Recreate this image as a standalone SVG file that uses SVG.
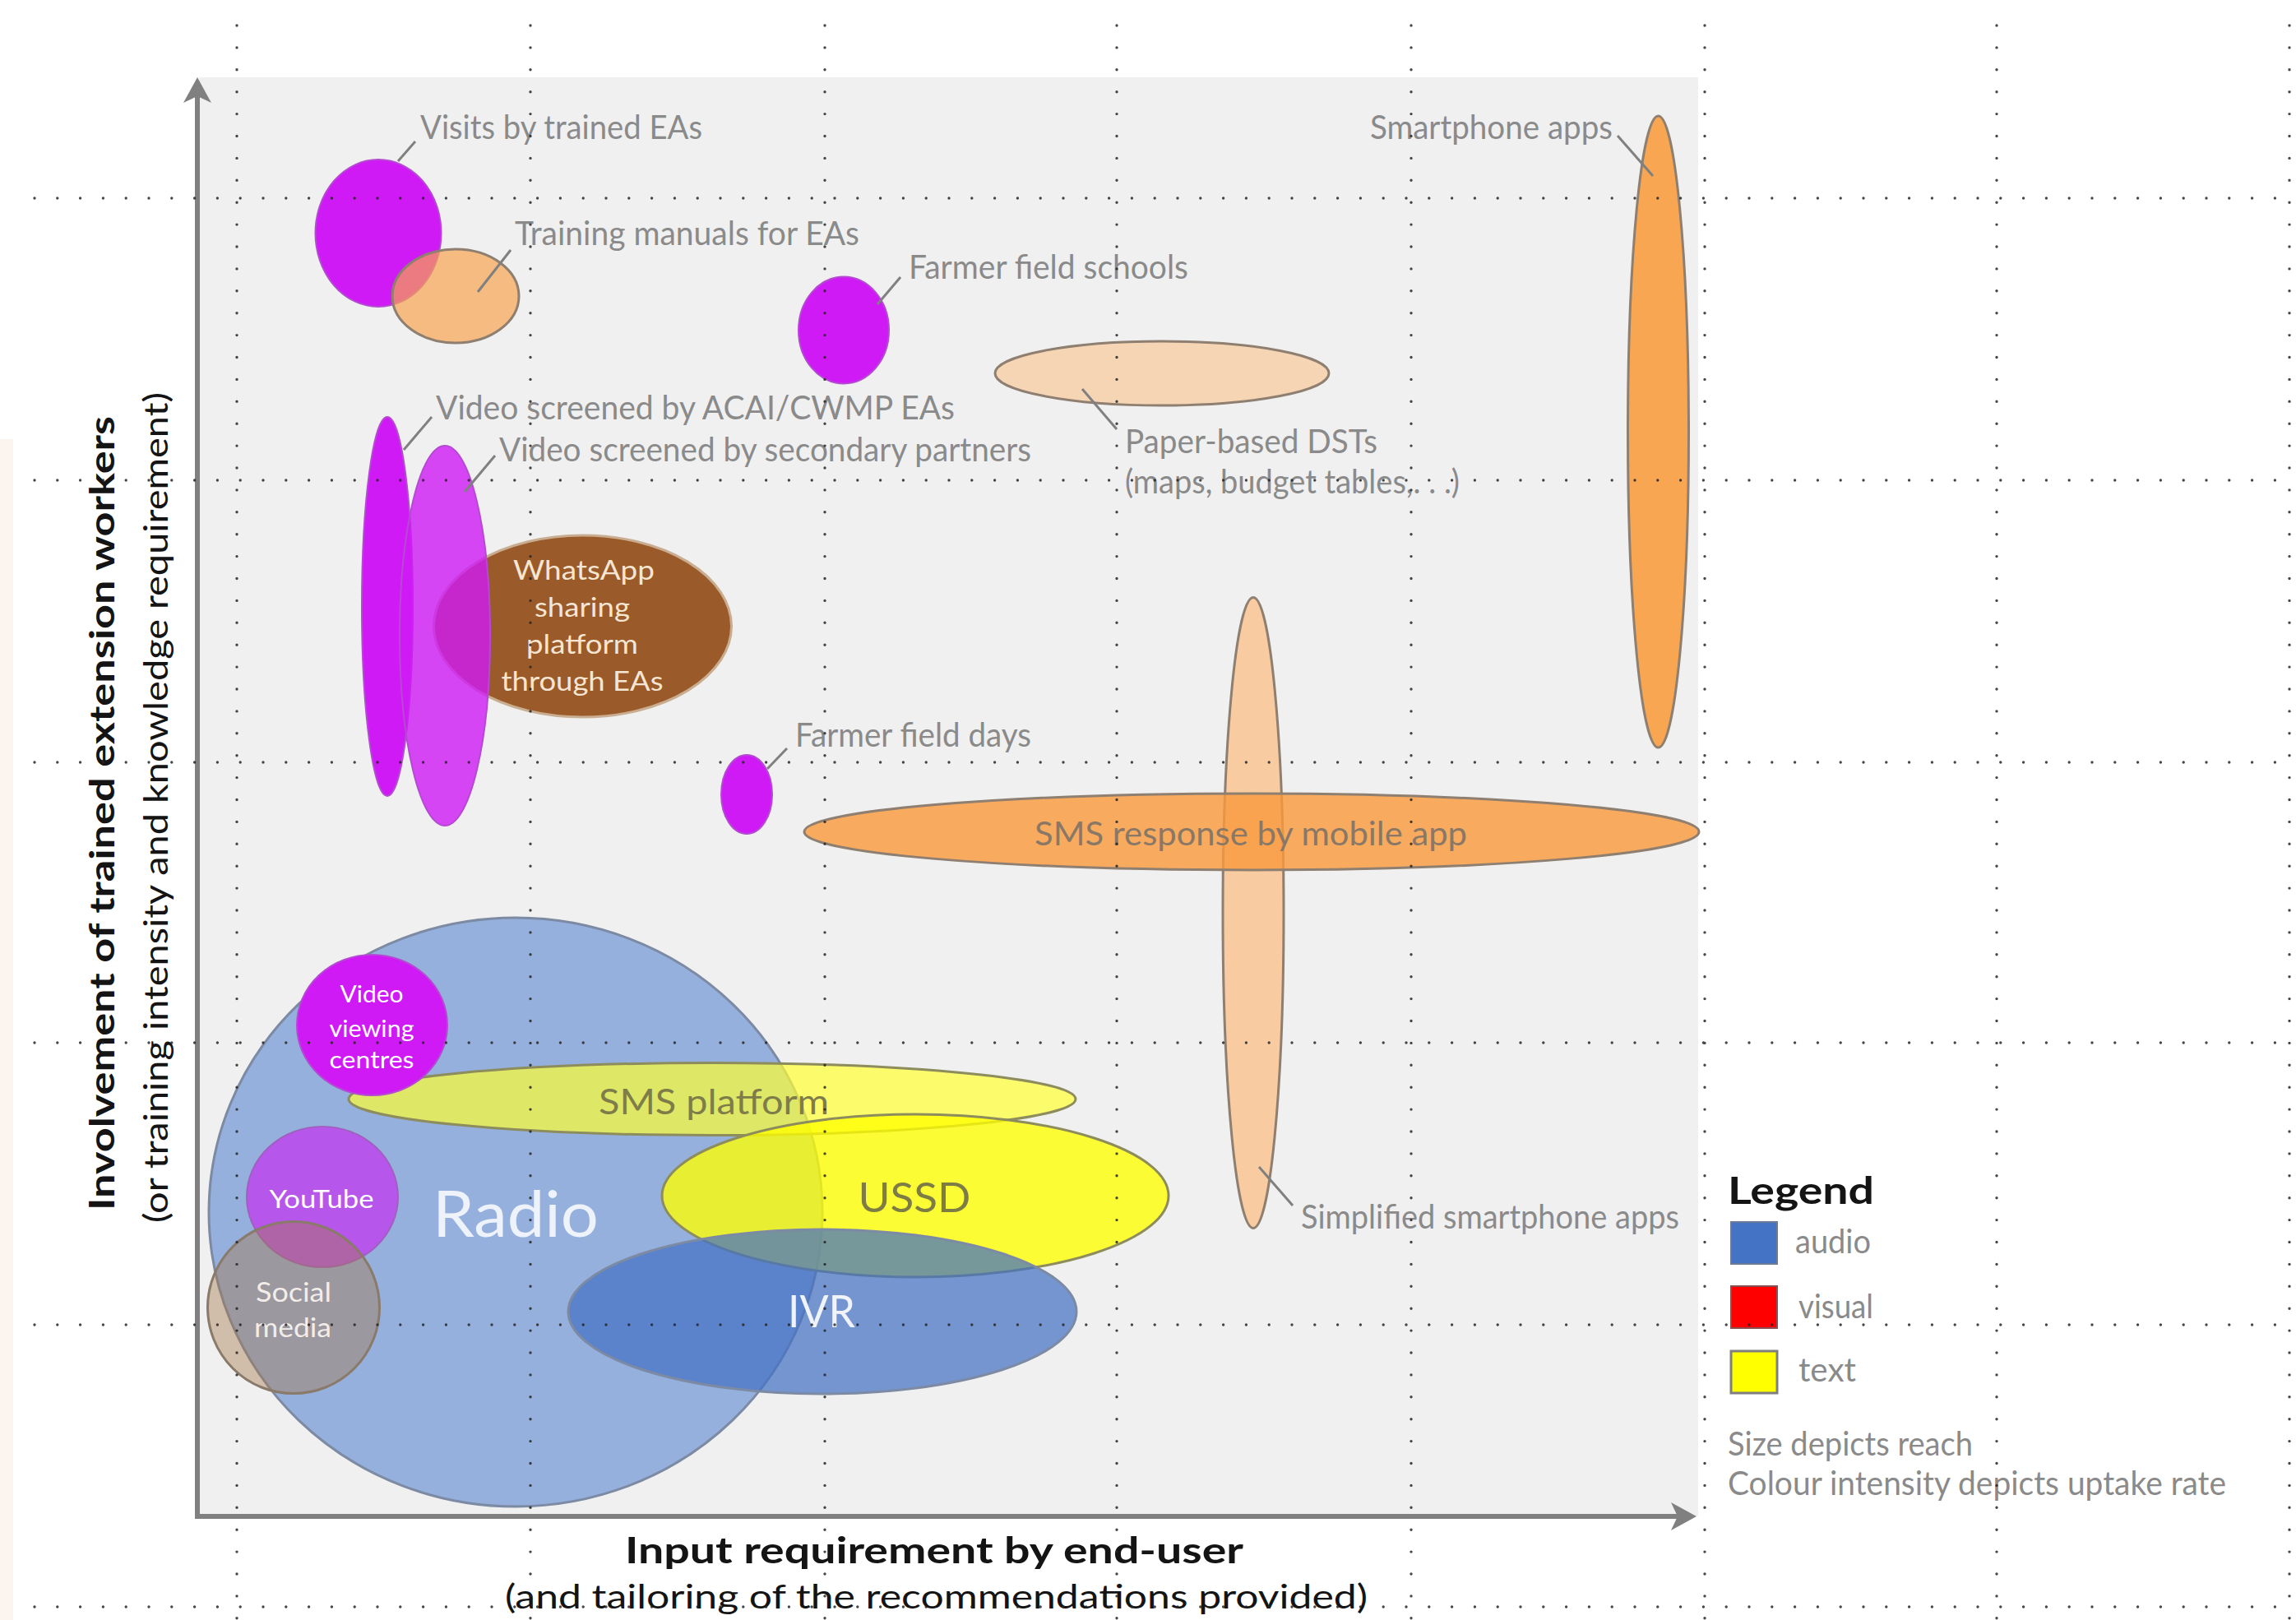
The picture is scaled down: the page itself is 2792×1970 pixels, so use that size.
<svg xmlns="http://www.w3.org/2000/svg" width="2792" height="1970" viewBox="0 0 2792 1970">
<defs>
<marker id="arr" viewBox="0 0 31 34" refX="8" refY="17" markerWidth="31" markerHeight="34" markerUnits="userSpaceOnUse" orient="auto">
<path d="M0,0 L31,17 L0,34 L8,17 z" fill="#808080"/>
</marker>
</defs>
<style>
.lbl{font-family:Lato,"Liberation Sans",sans-serif;font-size:40px;fill:#8a8a8a}
.in{font-family:Lato,"Liberation Sans",sans-serif;text-anchor:middle}
.ax{stroke:#808080;stroke-width:6;fill:none}
.lead line{stroke:#808080;stroke-width:3}
.mag{fill:#cf1af5;stroke:#b54ad2;stroke-width:2}
.ostk{stroke:#8e7f70;stroke-width:3}
.bstk{stroke:#7d8aa3;stroke-width:3}
.ystk{stroke:#8d8c5c;stroke-width:3}
.vg line{stroke:#262626;stroke-width:3.4;stroke-linecap:round;stroke-dasharray:0 26.9}
.hg line{stroke:#262626;stroke-width:3.4;stroke-linecap:round;stroke-dasharray:0 27.8}
.axt{font-family:Lato,"Liberation Sans",sans-serif;fill:#141414}
</style>
<rect x="0" y="0" width="2792" height="1970" fill="#ffffff"/>
<rect x="0" y="534" width="16" height="1436" fill="#fcf5ef"/>
<rect x="242" y="94" width="1823" height="1750" fill="#f0f0f0"/>

<!-- lower cluster -->
<g id="radio">
<ellipse cx="627" cy="1474" rx="373" ry="358" fill="#95b0dd" class="bstk"/>
<text class="in" x="627" y="1504" font-size="78" fill="#eef2fa" textLength="202" lengthAdjust="spacingAndGlyphs">Radio</text>
</g>
<g id="sms-platform">
<ellipse cx="866" cy="1336.5" rx="442" ry="44" fill="#ffff33" fill-opacity="0.7" class="ystk"/>
<text class="in" x="868" y="1355" font-size="43" fill="#7e7d4a" textLength="280" lengthAdjust="spacingAndGlyphs">SMS platform</text>
</g>
<g id="video-viewing-centres">
<ellipse cx="452.5" cy="1246.5" rx="91.5" ry="85.5" class="mag"/>
<text class="in" x="452" y="1219" font-size="29" fill="#ffffff" textLength="77" lengthAdjust="spacingAndGlyphs">Video</text>
<text class="in" x="452" y="1261" font-size="29" fill="#ffffff" textLength="103" lengthAdjust="spacingAndGlyphs">viewing</text>
<text class="in" x="452" y="1299" font-size="29" fill="#ffffff" textLength="103" lengthAdjust="spacingAndGlyphs">centres</text>
</g>
<g id="ussd">
<ellipse cx="1113" cy="1454" rx="308" ry="99" fill="#ffff00" fill-opacity="0.78" class="ystk"/>
<text class="in" x="1112" y="1474" font-size="50" fill="#7e7c45" textLength="137" lengthAdjust="spacingAndGlyphs">USSD</text>
</g>
<g id="ivr">
<ellipse cx="1000" cy="1595" rx="309" ry="100" fill="#4472c4" fill-opacity="0.72" class="bstk"/>
<text class="in" x="999" y="1614" font-size="54" fill="#f0f4fa" textLength="82" lengthAdjust="spacingAndGlyphs">IVR</text>
</g>
<g id="youtube">
<ellipse cx="392" cy="1455.5" rx="92" ry="85.5" fill="#cf1af5" fill-opacity="0.6" stroke="#a060c0" stroke-width="2"/>
<text class="in" x="391" y="1469" font-size="30" fill="#ffffff" textLength="127" lengthAdjust="spacingAndGlyphs">YouTube</text>
</g>
<g id="social-media">
<ellipse cx="357" cy="1590" rx="104.5" ry="104.6" fill="#a5764a" fill-opacity="0.42" stroke="#8a7a6a" stroke-width="3"/>
<text class="in" x="357" y="1583" font-size="32" fill="#f2ede8" textLength="92" lengthAdjust="spacingAndGlyphs">Social</text>
<text class="in" x="356" y="1626" font-size="32" fill="#f2ede8" textLength="94" lengthAdjust="spacingAndGlyphs">media</text>
</g>

<!-- upper cluster -->
<g id="visits-by-trained-eas">
<ellipse cx="460" cy="283.5" rx="76.5" ry="89.5" class="mag"/>
<text class="lbl" x="511" y="169" textLength="343" lengthAdjust="spacingAndGlyphs">Visits by trained EAs</text>
</g>
<g id="training-manuals">
<ellipse cx="554" cy="360" rx="77" ry="57" fill="#f8a450" fill-opacity="0.7" class="ostk"/>
<text class="lbl" x="626" y="298" textLength="419" lengthAdjust="spacingAndGlyphs">Training manuals for EAs</text>
</g>
<g id="farmer-field-schools">
<ellipse cx="1026" cy="401.5" rx="55" ry="65" class="mag"/>
<text class="lbl" x="1105" y="339" textLength="340" lengthAdjust="spacingAndGlyphs">Farmer field schools</text>
</g>
<g id="paper-based-dsts">
<ellipse cx="1413" cy="454" rx="203" ry="39" fill="#f6d5b5" class="ostk"/>
<text class="lbl" x="1368" y="551" textLength="307" lengthAdjust="spacingAndGlyphs">Paper-based DSTs</text>
<text class="lbl" x="1368" y="600" textLength="407" lengthAdjust="spacingAndGlyphs">(maps, budget tables,. . .)</text>
</g>
<g id="whatsapp">
<ellipse cx="708.5" cy="761.5" rx="181" ry="110.5" fill="#9b5a2a" stroke="#c9ad90" stroke-width="3"/>
<text class="in" x="710" y="705" font-size="33" fill="#f5e6d3" textLength="172" lengthAdjust="spacingAndGlyphs">WhatsApp</text>
<text class="in" x="708" y="750" font-size="33" fill="#f5e6d3" textLength="116" lengthAdjust="spacingAndGlyphs">sharing</text>
<text class="in" x="708" y="795" font-size="33" fill="#f5e6d3" textLength="136" lengthAdjust="spacingAndGlyphs">platform</text>
<text class="in" x="708" y="840" font-size="33" fill="#f5e6d3" textLength="197" lengthAdjust="spacingAndGlyphs">through EAs</text>
</g>
<g id="video-acai-cwmp">
<ellipse cx="471" cy="737.5" rx="31" ry="230.5" class="mag"/>
<text class="lbl" x="530" y="510" textLength="631" lengthAdjust="spacingAndGlyphs">Video screened by ACAI/CWMP EAs</text>
</g>
<g id="video-secondary-partners">
<ellipse cx="541" cy="773" rx="55" ry="231" fill="#cf1af5" fill-opacity="0.8" stroke="#b54ad2" stroke-width="2"/>
<text class="lbl" x="607" y="561" textLength="647" lengthAdjust="spacingAndGlyphs">Video screened by secondary partners</text>
</g>
<g id="farmer-field-days">
<ellipse cx="908" cy="966" rx="31" ry="48" class="mag"/>
<text class="lbl" x="967" y="908" textLength="287" lengthAdjust="spacingAndGlyphs">Farmer field days</text>
</g>
<g id="smartphone-apps">
<ellipse cx="2016.5" cy="525" rx="37" ry="384" fill="#f9a652" class="ostk"/>
<text class="lbl" x="1666" y="169" textLength="295" lengthAdjust="spacingAndGlyphs">Smartphone apps</text>
</g>
<g id="simplified-smartphone-apps">
<ellipse cx="1524" cy="1110" rx="37" ry="383.5" fill="#f8cba0" class="ostk"/>
<text class="lbl" x="1582" y="1494" textLength="460" lengthAdjust="spacingAndGlyphs">Simplified smartphone apps</text>
</g>
<g id="sms-response">
<ellipse cx="1522" cy="1011.5" rx="544" ry="46.5" fill="#f99a3e" fill-opacity="0.82" class="ostk"/>
<text class="lbl" x="1258" y="1028" textLength="526" lengthAdjust="spacingAndGlyphs" style="fill:#8a7866">SMS response by mobile app</text>
</g>

<!-- leader connectors -->
<g id="connectors" class="lead">
<line x1="484" y1="196" x2="505" y2="172"/>
<line x1="621" y1="304" x2="581" y2="355"/>
<line x1="1095" y1="337" x2="1067" y2="370"/>
<line x1="1316" y1="473" x2="1358" y2="522"/>
<line x1="1967" y1="165" x2="2010" y2="214"/>
<line x1="525" y1="507" x2="491" y2="547"/>
<line x1="602" y1="554" x2="565" y2="598"/>
<line x1="957" y1="910" x2="933" y2="935"/>
<line x1="1531" y1="1419" x2="1572" y2="1466"/>
</g>

<!-- axes -->
<g id="axes">
<line class="ax" x1="240" y1="1847" x2="240" y2="117" marker-end="url(#arr)"/>
<line class="ax" x1="237" y1="1844" x2="2040" y2="1844" marker-end="url(#arr)"/>
<text class="axt" transform="translate(139,989) rotate(-90)" text-anchor="middle" font-size="42" font-weight="bold" textLength="966" lengthAdjust="spacingAndGlyphs">Involvement of trained extension workers</text>
<text class="axt" transform="translate(204,982) rotate(-90)" text-anchor="middle" font-size="40" textLength="1010" lengthAdjust="spacingAndGlyphs">(or training intensity and knowledge requirement)</text>
<text class="axt" x="760" y="1901" font-size="44" font-weight="bold" textLength="752" lengthAdjust="spacingAndGlyphs">Input requirement by end-user</text>
<text class="axt" x="614" y="1956" font-size="40" textLength="1049" lengthAdjust="spacingAndGlyphs">(and tailoring of the recommendations provided)</text>
</g>

<!-- legend -->
<g id="legend">
<text class="axt" x="2101" y="1464" font-size="46" font-weight="bold" fill="#000" textLength="178" lengthAdjust="spacingAndGlyphs">Legend</text>
<rect x="2105" y="1486" width="56" height="51" fill="#4472c4" stroke="#6b7a96" stroke-width="2"/>
<rect x="2105" y="1564" width="56" height="51" fill="#ff0000" stroke="#8a5050" stroke-width="2"/>
<rect x="2105" y="1643" width="56" height="51" fill="#ffff00" stroke="#7f7f7f" stroke-width="3"/>
<text class="lbl" x="2183" y="1524" textLength="92" lengthAdjust="spacingAndGlyphs">audio</text>
<text class="lbl" x="2187" y="1603" textLength="91" lengthAdjust="spacingAndGlyphs">visual</text>
<text class="lbl" x="2187" y="1680" textLength="70" lengthAdjust="spacingAndGlyphs">text</text>
<text class="lbl" x="2101" y="1770" textLength="298" lengthAdjust="spacingAndGlyphs">Size depicts reach</text>
<text class="lbl" x="2101" y="1818" textLength="606" lengthAdjust="spacingAndGlyphs">Colour intensity depicts uptake rate</text>
</g>

<!-- dotted grid overlay -->
<g id="grid" opacity="0.85">
<g class="vg">
<line x1="288" y1="31" x2="288" y2="1970"/>
<line x1="645" y1="31" x2="645" y2="1970"/>
<line x1="1003" y1="31" x2="1003" y2="1970"/>
<line x1="1358" y1="31" x2="1358" y2="1970"/>
<line x1="1716" y1="31" x2="1716" y2="1970"/>
<line x1="2073" y1="31" x2="2073" y2="1970"/>
<line x1="2428" y1="31" x2="2428" y2="1970"/>
<line x1="2784" y1="31" x2="2784" y2="1970"/>
</g>
<g class="hg">
<line x1="42" y1="241" x2="2792" y2="241"/>
<line x1="42" y1="584" x2="2792" y2="584"/>
<line x1="42" y1="927" x2="2792" y2="927"/>
<line x1="42" y1="1268" x2="2792" y2="1268"/>
<line x1="42" y1="1611" x2="2792" y2="1611"/>
<line x1="42" y1="1954" x2="2792" y2="1954"/>
</g>
</g>
</svg>
